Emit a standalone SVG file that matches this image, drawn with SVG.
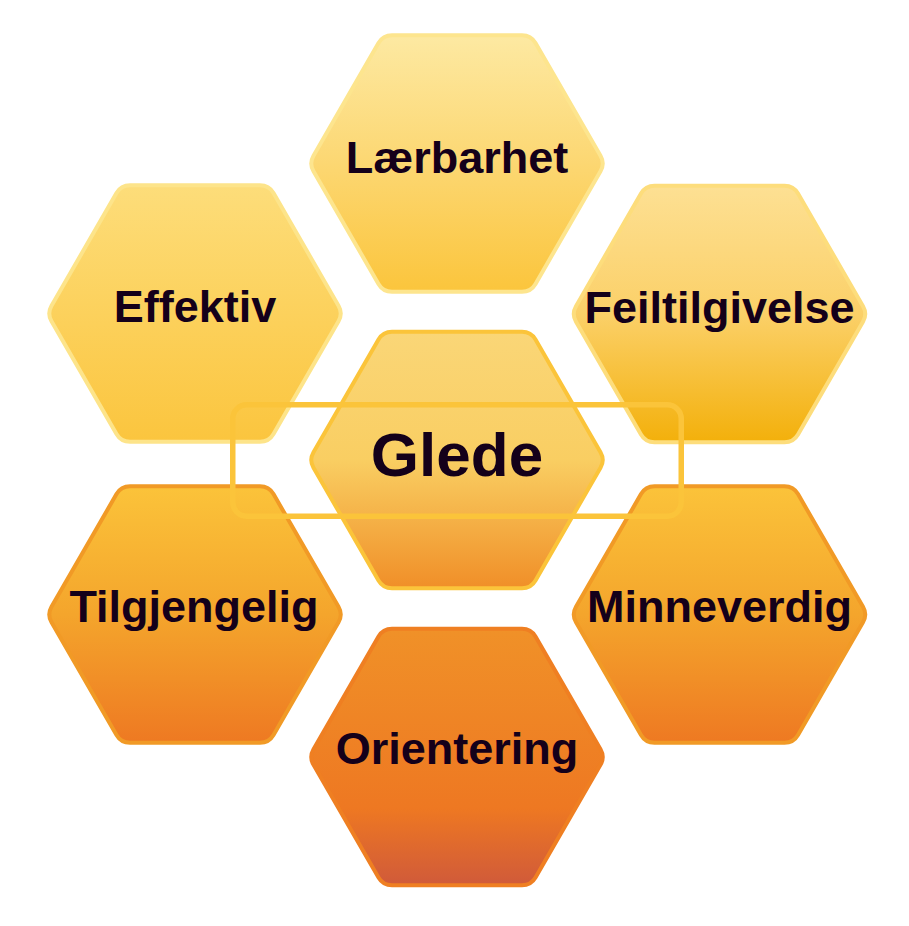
<svg xmlns="http://www.w3.org/2000/svg" xmlns:xlink="http://www.w3.org/1999/xlink" width="909" height="926" viewBox="0 0 909 926">
  <style>
    .hex { stroke-width: 4; }
    .lbl { font-family: "Liberation Sans", Arial, sans-serif; font-weight: bold; font-size: 45px; fill: #14001a; text-anchor: middle; }
    .big { font-size: 62px; }
  </style>
  <defs>
    <path id="hexShape" d="M -65,-128.17 L 65,-128.17 Q 74,-128.17 78.5,-120.38 L 143.5,-7.79 Q 148,0 143.5,7.79 L 78.5,120.38 Q 74,128.17 65,128.17 L -65,128.17 Q -74,128.17 -78.5,120.38 L -143.5,7.79 Q -148,0 -143.5,-7.79 L -78.5,-120.38 Q -74,-128.17 -65,-128.17 Z"/>
    <linearGradient id="gTop" x1="0" y1="0" x2="0" y2="1">
      <stop offset="0" stop-color="#fde9a2"/>
      <stop offset="0.5" stop-color="#fcd772"/>
      <stop offset="1" stop-color="#fbc53c"/>
    </linearGradient>
    <linearGradient id="gLeftTop" x1="0" y1="0" x2="0" y2="1">
      <stop offset="0" stop-color="#fddd7a"/>
      <stop offset="1" stop-color="#fbc53e"/>
    </linearGradient>
    <linearGradient id="gRightTop" x1="0" y1="0" x2="0" y2="1">
      <stop offset="0" stop-color="#fde093"/>
      <stop offset="0.5" stop-color="#fbd068"/>
      <stop offset="1" stop-color="#f3b00b"/>
    </linearGradient>
    <linearGradient id="gCenter" x1="0" y1="0" x2="0" y2="1">
      <stop offset="0" stop-color="#fad677"/>
      <stop offset="0.5" stop-color="#f9ce62"/>
      <stop offset="1" stop-color="#f08f28"/>
    </linearGradient>
    <linearGradient id="gLow" x1="0" y1="0" x2="0" y2="1">
      <stop offset="0" stop-color="#fbc33a"/>
      <stop offset="0.5" stop-color="#f4a52c"/>
      <stop offset="1" stop-color="#ee7922"/>
    </linearGradient>
    <linearGradient id="gBottom" x1="0" y1="0" x2="0" y2="1">
      <stop offset="0" stop-color="#f09128"/>
      <stop offset="0.7" stop-color="#ee7822"/>
      <stop offset="1" stop-color="#d05a3a"/>
    </linearGradient>
  </defs>

  <g id="node-laerbarhet">
    <use xlink:href="#hexShape" href="#hexShape" transform="translate(457,163.5)" class="hex" fill="url(#gTop)" stroke="#fde58e"/>
    <text class="lbl" x="457" y="173">Lærbarhet</text>
  </g>
  <g id="node-effektiv">
    <use xlink:href="#hexShape" href="#hexShape" transform="translate(195,313.5)" class="hex" fill="url(#gLeftTop)" stroke="#fde48a"/>
    <text class="lbl" x="195" y="322">Effektiv</text>
  </g>
  <g id="node-feiltilgivelse">
    <use xlink:href="#hexShape" href="#hexShape" transform="translate(719.5,314)" class="hex" fill="url(#gRightTop)" stroke="#fddd7c"/>
    <text class="lbl" x="719.5" y="323">Feiltilgivelse</text>
  </g>
  <g id="node-tilgjengelig">
    <use xlink:href="#hexShape" href="#hexShape" transform="translate(195,614.5)" class="hex" fill="url(#gLow)" stroke="#f19a26"/>
    <text class="lbl" x="194" y="622">Tilgjengelig</text>
  </g>
  <g id="node-minneverdig">
    <use xlink:href="#hexShape" href="#hexShape" transform="translate(719.5,614.5)" class="hex" fill="url(#gLow)" stroke="#f19a26"/>
    <text class="lbl" x="719.5" y="622">Minneverdig</text>
  </g>
  <g id="node-orientering">
    <use xlink:href="#hexShape" href="#hexShape" transform="translate(457,757)" class="hex" fill="url(#gBottom)" stroke="#ef7f22"/>
    <text class="lbl" x="457" y="764">Orientering</text>
  </g>
  <g id="node-glede">
    <use xlink:href="#hexShape" href="#hexShape" transform="translate(457,460)" class="hex" fill="url(#gCenter)" stroke="#fbc43a"/>
  </g>

  <g id="highlight">
    <rect x="232.75" y="404.75" width="448.5" height="111.5" rx="14" ry="14" fill="none" stroke="#fbc43a" stroke-width="5.5"/>
  </g>

  <g id="node-glede-label">
    <text class="lbl big" x="457" y="476">Glede</text>
  </g>

  <g id="connectors"/>
</svg>
